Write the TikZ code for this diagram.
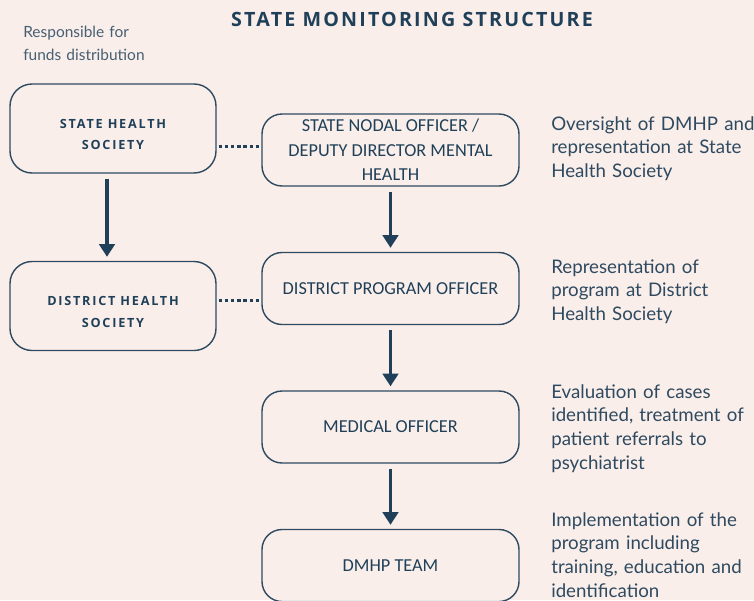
\documentclass[tikz,border=0pt]{standalone}
\usepackage{fontspec}
\setmainfont{Lato}
\newfontfamily\boxfont{Carlito}
\newfontfamily\titlefont[LetterSpace=11]{Open Sans}
\newfontfamily\societyfont[LetterSpace=14]{Open Sans}
\usetikzlibrary{arrows.meta,positioning}
\definecolor{bgpeach}{HTML}{FAEEEA}
\definecolor{navy}{HTML}{1F4058}
\definecolor{slate}{HTML}{2E4A60}
\definecolor{greyslate}{HTML}{465F73}
\newcommand{\lowerline}{\rule{0pt}{15pt}}
\tikzset{
    officebox/.style={
    rectangle,rounded corners=0.5cm,draw=slate,line width=1pt,
    minimum width=6.425cm,minimum height=1.8cm,align=center,
    font={\boxfont\fontsize{13}{17.4}\selectfont},text=navy
    },
    societybox/.style={
    rectangle,rounded corners=0.55cm,draw=slate,line width=1pt,
    minimum width=5.15cm,minimum height=2.225cm,align=center,
    font={\societyfont\bfseries\fontsize{9}{15.6}\selectfont},text=navy
    },
    role/.style={
    anchor=base west,align=left,text width=5.6cm,inner sep=0pt,
    font={\fontsize{13.3}{17}\selectfont},text=slate
    },
    flow/.style={
    draw=navy,line width=2.2pt,-{Triangle[width=11pt,length=9pt]},
    shorten <=0.12cm,shorten >=0.1cm
    },
    link/.style={
    draw=navy,line width=2.4pt,dash pattern=on 2.4pt off 2pt,
    shorten <=0.05cm,shorten >=0.05cm
    },
}

\begin{document}
\begin{tikzpicture}
  \path[use as bounding box,fill=bgpeach] (0,0) rectangle (18.85,-15);

  \node[anchor=base,text=navy,font={\titlefont\bfseries\fontsize{14}{17}\selectfont}] (title) at (10.3,-0.67) {STATE MONITORING STRUCTURE};
  \node[anchor=base west,align=left,inner sep=0pt,text width=4cm,text=greyslate,font={\fontsize{11}{16.4}\selectfont}] (funds) at (0.575,-0.94) {Responsible for\\funds distribution};

  % societies
  \node[societybox] (SHS) at (2.825,-3.2125) {\lowerline STATE HEALTH\\SOCIETY};
  \node[societybox] (DHS) at (2.825,-7.65) {\lowerline DISTRICT HEALTH\\SOCIETY};

  % officers
  \node[officebox] (Nodal) at (9.7625,-3.75) {STATE NODAL OFFICER /\\DEPUTY DIRECTOR MENTAL\\HEALTH};
  \node[officebox] (DPO) at (9.7625,-7.2125) {DISTRICT PROGRAM OFFICER};
  \node[officebox] (MO) at (9.7625,-10.675) {MEDICAL OFFICER};
  \node[officebox] (DMHP) at (9.7625,-14.1375) {DMHP TEAM};

  % roles
  \node[role] (oversight) at (13.775,-3.25) {Oversight of DMHP and\\representation at State\\Health Society};
  \node[role] (representation) at (13.775,-6.825) {Representation of\\program at District\\Health Society};
  \node[role] (evaluation) at (13.775,-9.95) {Evaluation of cases\\identified, treatment of\\patient referrals to\\psychiatrist};
  \node[role] (implementation) at (13.775,-13.15) {Implementation of the\\program including\\training, education and\\identification};

  \path
    ([xshift=-0.15cm]SHS.south) edge [flow] ([xshift=-0.15cm]DHS.north)
    (Nodal.south) edge [flow] (DPO.north)
    (DPO.south) edge [flow] (MO.north)
    (MO.south) edge [flow] (DMHP.north);

  \path
    ([yshift=0.08cm]SHS.east |- Nodal.west) edge [link] ([yshift=0.08cm]Nodal.west)
    ([yshift=0.13cm]DHS.east) edge [link] ([yshift=0.13cm]DHS.east -| DPO.west);

\end{tikzpicture}
\end{document}
